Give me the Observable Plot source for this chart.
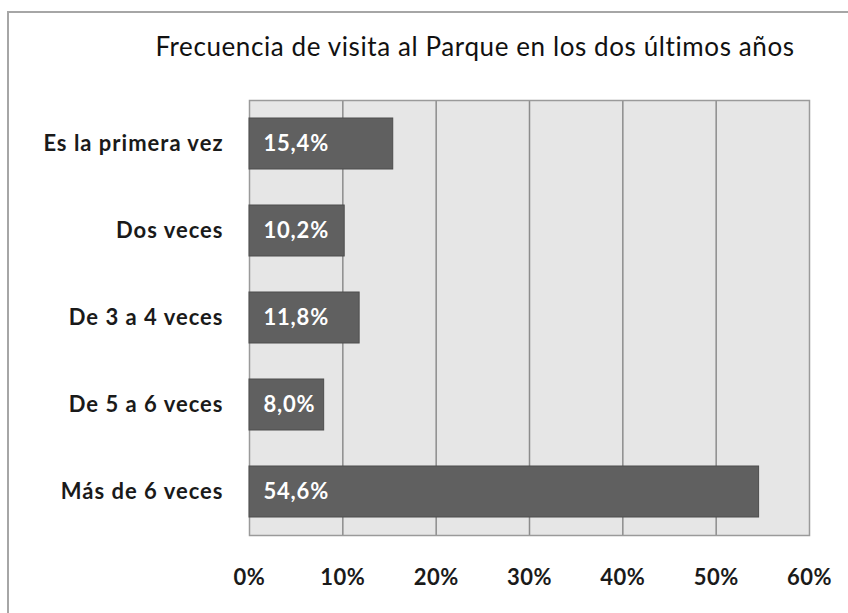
<!DOCTYPE html>
<html>
<head>
<meta charset="utf-8">
<script src="https://cdn.jsdelivr.net/npm/d3@7"></script>
<script src="https://cdn.jsdelivr.net/npm/@observablehq/plot@0.6"></script>
<style>
  html, body { margin: 0; padding: 0; background: #fff; }
  #wrap { position: relative; width: 848px; height: 613px; overflow: hidden; font-family: Lato, "Liberation Sans", Arial, sans-serif; }
  #frame { position: absolute; left: 7px; top: 11px; width: 900px; height: 700px; border-left: 2px solid #a6a6a6; border-top: 2px solid #a6a6a6; }
  #title { position: absolute; left: 0; width: 950px; top: 30px; text-align: center; font-size: 26px; letter-spacing: 0.6px; color: #111; }
  #chart { position: absolute; left: 0; top: 0; }
  #chart g[aria-label="y-axis tick label"] text { letter-spacing: 1px; }
  #chart g[aria-label="x-axis tick label"] text { letter-spacing: 0.5px; }
  #chart g[aria-label="text"] text { letter-spacing: 0.8px; }
</style>
</head>
<body>
<div id="wrap">
  <div id="frame"></div>
  <div id="title">Frecuencia de visita al Parque en los dos últimos años</div>
  <div id="chart"></div>
</div>
<script>
const categories = ["Es la primera vez", "Dos veces", "De 3 a 4 veces", "De 5 a 6 veces", "Más de 6 veces"];
const values = [0.154, 0.102, 0.118, 0.080, 0.546];
const tickValues = [0, 0.1, 0.2, 0.3, 0.4, 0.5, 0.6];

const data = categories.map((c, i) => ({category: c, value: values[i]}));
const fmt = v => (v * 100).toFixed(1).replace(".", ",") + "%";

const plot = Plot.plot({
  width: 848,
  height: 613,
  marginLeft: 249,
  marginRight: 39,
  marginTop: 100,
  marginBottom: 78,
  style: {background: "transparent", fontFamily: "Lato, Liberation Sans, Arial, sans-serif"},
  x: {domain: [0, 0.6], ticks: tickValues},
  y: {domain: categories, paddingInner: 0.41, paddingOuter: 0.205},
  marks: [
    Plot.frame({fill: "#e6e6e6", stroke: "none"}),
    Plot.ruleX(tickValues.slice(1, -1), {stroke: "#8c8c8c", strokeWidth: 1.5}),
    Plot.frame({stroke: "#9a9a9a", strokeWidth: 1.5}),
    Plot.barX(data, {x: "value", y: "category", fill: "#606060", stroke: "#4d4d4d", strokeWidth: 1}),
    Plot.text(data, {x: 0, y: "category", text: d => fmt(d.value), dx: 14, textAnchor: "start", fill: "#fff", fontWeight: "bold", fontSize: 22}),
    Plot.axisX({ticks: tickValues, tickFormat: d => Math.round(d * 100) + "%", tickSize: 0, tickPadding: 34, fontSize: 22, fontWeight: "bold", color: "#1a1a1a", label: null}),
    Plot.axisY({tickSize: 0, tickPadding: 26, fontSize: 22, fontWeight: "bold", color: "#1a1a1a", label: null})
  ]
});
document.getElementById("chart").appendChild(plot);
</script>
</body>
</html>
